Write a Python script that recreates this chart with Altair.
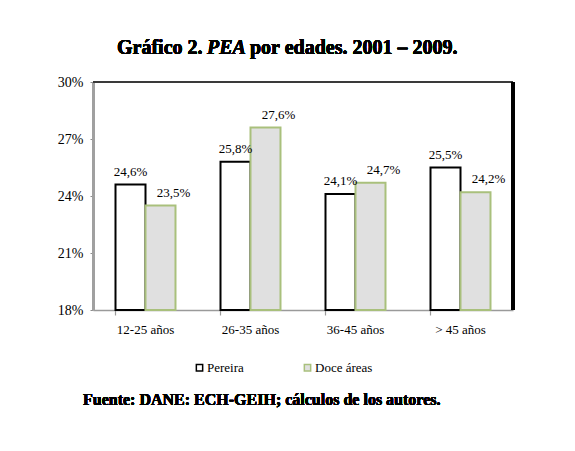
import altair as alt
import pandas as pd

categories = ["12-25 años", "26-35 años", "36-45 años", "> 45 años"]
series = ["Pereira", "Doce áreas"]
pereira = [24.6, 25.8, 24.1, 25.5]
doce = [23.5, 27.6, 24.7, 24.2]
y_ticks = [18, 21, 24, 27, 30]

rows = []
for c, p, d in zip(categories, pereira, doce):
    rows.append({"cat": c, "serie": "Pereira", "v": p, "lab": f"{p:.1f}%".replace(".", ",")})
    rows.append({"cat": c, "serie": "Doce áreas", "v": d, "lab": f"{d:.1f}%".replace(".", ",")})
df = pd.DataFrame(rows)

FONT = "Liberation Serif"
W, H = 420, 228

x = alt.X("cat:N", sort=categories, title=None,
          scale=alt.Scale(paddingInner=0.4286, paddingOuter=0.2143),
          axis=alt.Axis(bandPosition=0, labelAngle=0, labelFont=FONT, labelFontSize=13,
                        labelColor="black", labelPadding=8, tickSize=5, tickColor="#9a9a9a",
                        domainColor="#9a9a9a", domainWidth=1.5, tickWidth=1.2, grid=False))
xo = alt.XOffset("serie:N", sort=series, scale=alt.Scale(paddingInner=0, paddingOuter=0))
y = alt.Y("v:Q", title=None,
          scale=alt.Scale(domain=[18, 30], zero=False, nice=False),
          axis=alt.Axis(values=y_ticks, labelExpr="datum.value + '%'", labelFont=FONT,
                        labelFontSize=14, labelColor="black", labelPadding=7, tickSize=3,
                        tickColor="#8c8c8c", domainColor="#a0a0a0", domainWidth=3, grid=False))

base = alt.Chart(df)

bars = base.mark_bar(strokeWidth=2).encode(
    x=x, xOffset=xo, y=y, y2=alt.datum(18),
    fill=alt.Fill("serie:N", sort=series, title=None,
                  scale=alt.Scale(domain=series, range=["white", "#e0e0e0"]),
                  legend=alt.Legend(orient="none", legendX=100, legendY=279, direction="horizontal",
                                    symbolType="square", symbolSize=40, symbolStrokeWidth=1.5,
                                    labelFont=FONT, labelFontSize=13, labelColor="black",
                                    labelOffset=1, columnPadding=57)),
    stroke=alt.Stroke("serie:N", sort=series, title=None,
                      scale=alt.Scale(domain=series, range=["black", "#a9c07c"])),
)

lab_p = base.transform_filter(alt.datum.serie == "Pereira").mark_text(
    font=FONT, fontSize=13, baseline="bottom", dy=-6, color="black"
).encode(x=x, xOffset=xo, y=y, text="lab:N")

lab_d = base.transform_filter(alt.datum.serie == "Doce áreas").mark_text(
    font=FONT, fontSize=13, baseline="bottom", dy=-6, dx=13, color="black"
).encode(x=x, xOffset=xo, y=y, text="lab:N")

top_rule = alt.Chart(df).mark_rule(color="#3a3a3a", strokeWidth=2).encode(
    x=alt.value(0), x2=alt.value(W), y=alt.value(0))
right_rule = alt.Chart(df).mark_rule(color="black", strokeWidth=3).encode(
    x=alt.value(W), y=alt.value(0), y2=alt.value(H))

t1 = alt.Chart(df).mark_text(font=FONT, fontSize=20, fontWeight="bold", align="left",
                             baseline="alphabetic", color="black").encode(
    x=alt.value(24), y=alt.value(-28), text=alt.value("Gráfico 2."))
t2 = alt.Chart(df).mark_text(font=FONT, fontSize=20, fontWeight="bold", fontStyle="italic",
                             align="left", baseline="alphabetic", color="black").encode(
    x=alt.value(114), y=alt.value(-28), text=alt.value("PEA"))
t3 = alt.Chart(df).mark_text(font=FONT, fontSize=20, fontWeight="bold", align="left",
                             baseline="alphabetic", color="black").encode(
    x=alt.value(157), y=alt.value(-28), text=alt.value("por edades. 2001 – 2009."))

foot = alt.Chart(df).mark_text(font=FONT, fontSize=16, fontWeight="bold", align="left",
                               baseline="alphabetic", color="black").encode(
    x=alt.value(-10), y=alt.value(323), text=alt.value("Fuente: DANE: ECH-GEIH; cálculos de los autores."))

chart = alt.layer(bars, lab_p, lab_d, top_rule, right_rule, t1, t2, t3, foot).properties(
    width=W, height=H,
    autosize=alt.AutoSizeParams(type="none"),
    padding={"left": 85, "top": 74, "right": 40, "bottom": 120},
    background="white",
).configure_view(stroke=None)

chart.save("out.html", embed_options={"renderer": "svg", "actions": False})
